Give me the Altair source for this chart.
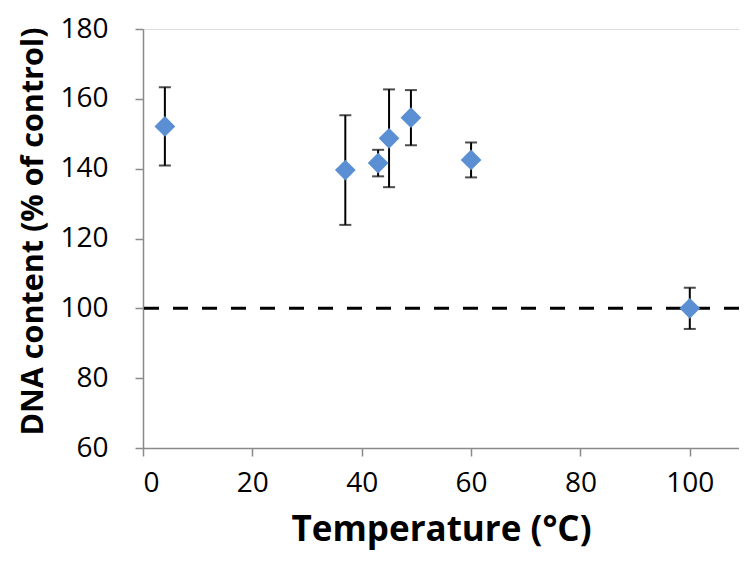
import altair as alt
import pandas as pd

temps = [4, 37, 43, 45, 49, 60, 100]
means = [152.1, 139.6, 141.6, 148.7, 154.6, 142.5, 100.0]
errors = [11.2, 15.7, 3.8, 14.0, 7.9, 5.0, 5.9]
x_ticks = [0, 20, 40, 60, 80, 100]
y_ticks = [60, 80, 100, 120, 140, 160, 180]
control_level = [100]

df = pd.DataFrame({"temp": temps, "mean": means, "err": errors})
df["lo"] = df["mean"] - df["err"]
df["hi"] = df["mean"] + df["err"]
ref = pd.DataFrame({"y": control_level})

FONT = "Open Sans"

x_scale = alt.Scale(domain=[0, 109], nice=False, zero=False)
y_scale = alt.Scale(domain=[60, 180], nice=False, zero=False)

x_axis = alt.Axis(
    values=x_ticks, title="Temperature (°C)", grid=False,
    domainColor="#8a8a8a", domainWidth=1.5, tickColor="#8a8a8a", tickWidth=1.5, tickSize=8,
    labelFont=FONT, labelFontSize=28, labelColor="black", labelPadding=13,
    titleFont=FONT, titleFontSize=35, titleFontWeight="bold", titleColor="black", titlePadding=15,
)
y_axis = alt.Axis(
    values=y_ticks, title="DNA content (% of control)", grid=False,
    domainColor="#8a8a8a", domainWidth=1.5, tickColor="#8a8a8a", tickWidth=1.5, tickSize=8,
    labelFont=FONT, labelFontSize=28, labelColor="black", labelPadding=27,
    titleFont=FONT, titleFontSize=30.5, titleFontWeight="bold", titleColor="black", titlePadding=11,
    titleY=202,
)

base = alt.Chart(df)

rule = alt.Chart(ref).mark_rule(color="black", strokeWidth=3, strokeDash=[15, 14]).encode(
    y=alt.Y("y:Q", scale=y_scale, axis=y_axis),
)

bars = base.mark_errorbar(
    color="black",
    ticks=alt.TickConfig(size=12, thickness=2, color="black"),
    rule=alt.LineConfig(strokeWidth=2, color="black"),
).encode(
    x=alt.X("temp:Q", scale=x_scale, axis=x_axis),
    y=alt.Y("lo:Q", scale=y_scale, axis=y_axis),
    y2="hi:Q",
)

points = base.mark_point(shape="diamond", filled=True, size=430, color="#5A8FD3", opacity=1).encode(
    x=alt.X("temp:Q", scale=x_scale, axis=x_axis),
    y=alt.Y("mean:Q", scale=y_scale, axis=y_axis),
)

chart = alt.layer(rule, bars, points).properties(
    width=596, height=419,
    autosize=alt.AutoSizeParams(type="none"),
    padding={"left": 135, "top": 21, "right": 0, "bottom": 112},
).configure_view(stroke="black", strokeWidth=2.5).configure(background="white")

chart.save("out.html", embed_options={"renderer": "svg", "actions": False})
